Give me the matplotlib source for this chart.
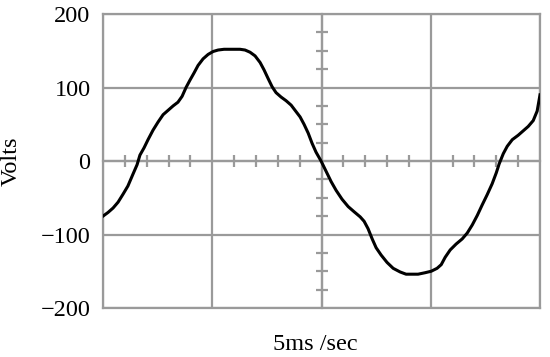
import matplotlib
matplotlib.use("Agg")
import matplotlib.pyplot as plt
import numpy as np

# time in ms (5 ms per division), voltage in volts
time_ms = [0.00, 0.23, 0.46, 0.69, 0.92, 1.14, 1.37, 1.56, 1.69, 1.88,
           2.06, 2.29, 2.52, 2.75, 2.98, 3.21, 3.43, 3.62, 3.80, 3.98,
           4.17, 4.35, 4.58, 4.81, 5.04, 5.27, 5.54, 6.27, 6.50, 6.73,
           6.96, 7.19, 7.37, 7.56, 7.74, 7.92, 8.15, 8.38, 8.61, 8.84,
           9.02, 9.20, 9.39, 9.57, 9.75, 9.98, 10.21, 10.44, 10.67, 10.94,
           11.22, 11.49, 11.77, 11.95, 12.13, 12.32, 12.50, 12.73, 13.00, 13.28,
           13.60, 13.87, 14.42, 14.74, 15.02, 15.29, 15.48, 15.66, 15.89, 16.16,
           16.44, 16.67, 16.90, 17.13, 17.35, 17.58, 17.81, 18.00, 18.13, 18.32,
           18.50, 18.73, 19.00, 19.23, 19.46, 19.69, 19.87, 20.00]
volts = [-75, -70, -64, -56, -45, -34, -18, -5, 8, 18,
         29, 42, 53, 63, 69, 75, 80, 88, 100, 110,
         120, 130, 139, 145, 149, 151, 152, 152, 151, 148,
         143, 134, 124, 112, 101, 93, 87, 82, 76, 67,
         60, 50, 38, 24, 12, 0, -14, -28, -40, -52,
         -62, -69, -76, -82, -92, -106, -118, -128, -138, -146,
         -151, -154, -154, -152, -150, -146, -141, -131, -121, -113,
         -106, -98, -87, -74, -60, -46, -31, -16, -4, 10,
         20, 29, 35, 41, 47, 55, 68, 90]

y_ticks = [-200, -100, 0, 100, 200]
y_tick_labels = ["\u2212200", "\u2212100", "0", "100", "200"]
x_grid = [0, 5, 10, 15, 20]

plt.rcParams['font.family'] = ['Liberation Serif', 'DejaVu Serif']

fig = plt.figure(figsize=(5.5, 3.57), dpi=100)
pos = [103/550, 1 - 308/357, (540-103)/550, (308-14)/357]
ax = fig.add_axes(pos)
grid_col = '#9a9a9a'

ax.set_xlim(0, 20)
ax.set_ylim(-200, 200)
ax.set_xticks(x_grid)
ax.set_xticklabels([])
ax.set_yticks(y_ticks)
ax.set_yticklabels(y_tick_labels, fontsize=17.5)
ax.tick_params(axis='both', length=0, pad=9)
ax.grid(True, color=grid_col, linewidth=1.6)
for s in ax.spines.values():
    s.set_color(grid_col)
    s.set_linewidth(1.6)
ax.set_ylabel("Volts", fontsize=17.5)
ax.set_xlabel("5ms /sec", fontsize=17.5)
ax.yaxis.set_label_coords(-0.185, 0.5)
ax.xaxis.set_label_coords(0.485, -0.09)

# centre graticule axes with minor ticks
ax2 = fig.add_axes(pos)
ax2.set_xlim(0, 20)
ax2.set_ylim(-200, 200)
ax2.patch.set_visible(False)
for k in ['top', 'right']:
    ax2.spines[k].set_visible(False)
ax2.spines['left'].set_position(('data', 10))
ax2.spines['bottom'].set_position(('data', 0))
for k in ['left', 'bottom']:
    ax2.spines[k].set_color(grid_col)
    ax2.spines[k].set_linewidth(1.6)
ax2.set_xticks([t for t in np.arange(1, 20, 1) if t % 5 != 0])
ax2.set_yticks([v for v in np.arange(-175, 200, 25) if v % 100 != 0])
ax2.set_xticklabels([])
ax2.set_yticklabels([])
ax2.tick_params(axis='both', direction='inout', length=8, width=1.6, color=grid_col)

ax2.plot(time_ms, volts, color='black', linewidth=2.2, zorder=5)

fig.savefig("out.png", dpi=100)
